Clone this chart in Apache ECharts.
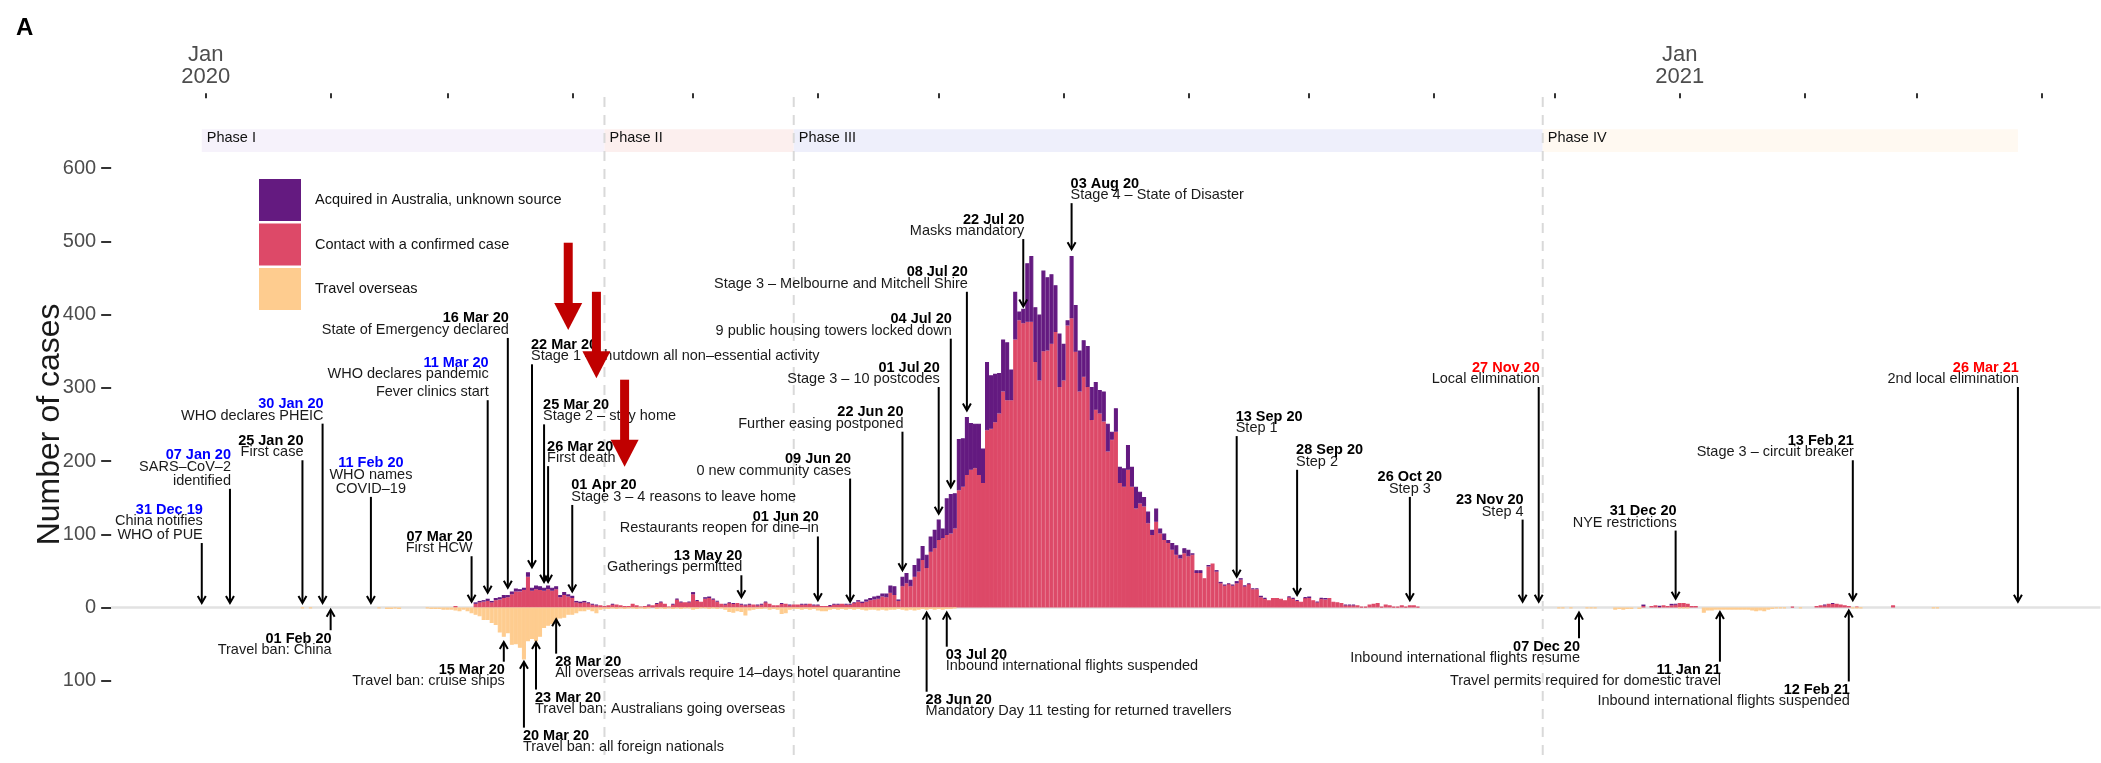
<!DOCTYPE html>
<html>
<head>
<meta charset="utf-8">
<script src="https://cdn.jsdelivr.net/npm/echarts@6/dist/echarts.min.js"></script>
<style>html,body{margin:0;padding:0;background:#fff}#chart{width:2101px;height:763px}</style>
</head>
<body>
<div id="chart"></div>
<script>
// ---------------- DATA (daily cases, starting 2020-01-21) ----------------
const dataStart = '2020-01-21';

const unknownSource = [
  0,0,0,0,0,0,0,0,0,0,
  0,0,0,0,0,0,0,0,0,0,
  0,0,0,0,0,0,0,0,0,0,
  0,0,0,0,0,0,0,0,0,0,
  0,0,0,0,0,0,0,2,2,2,
  3,2,3,3,4,3,4,4,3,3,
  6,4,5,5,4,5,4,4,3,4,
  3,3,2,2,2,1,1,1,0,0,
  0,1,0,0,0,0,0,0,0,0,
  1,0,1,1,0,0,1,1,1,0,
  1,3,1,0,2,2,1,1,0,1,
  1,1,0,1,1,1,0,1,1,1,
  0,0,0,1,0,1,0,0,1,1,
  0,1,1,0,0,1,1,1,0,1,
  1,1,2,2,3,3,4,4,4,5,
  10,12,2,13,14,9,16,18,19,18,
  21,25,28,13,50,54,48,70,66,79,
  64,61,70,47,93,73,66,55,71,79,
  42,65,12,20,80,90,75,90,110,100,
  95,64,73,50,7,85,64,56,50,56,
  45,38,32,41,38,11,32,22,25,34,
  27,30,16,13,16,7,18,7,9,4,
  9,13,5,7,9,2,4,4,0,2,
  0,2,2,1,1,1,3,2,1,1,
  1,1,2,1,0,0,0,0,0,1,
  1,1,0,1,2,0,1,1,2,0,
  0,0,0,1,1,1,0,0,0,0,
  0,0,0,0,0,0,0,0,0,0,
  0,0,0,0,0,0,0,0,0,0,
  0,0,0,0,0,0,0,0,0,0,
  0,0,0,0,0,0,0,0,0,0,
  0,0,0,0,0,0,0,0,0,0,
  0,0,0,0,0,0,0,0,0,0,
  0,0,0,0,0,0,0,2,0,0,
  0,1,0,0,2,1,0,0,0,0,
  0,0,0,0,0,0,0,0,0,0,
  0,0,0,0,0,0,0,0,0,0,
  0,0,0,0,0,0,0,0,0,0,
  0,0,1,0,1,0,0,0,0,0
];

const contactCase = [
  0,0,0,0,0,0,0,0,0,0,
  0,0,0,0,0,0,0,0,0,0,
  0,0,0,0,0,0,0,0,0,0,
  0,0,0,0,0,0,0,0,0,0,
  0,0,2,0,0,0,0,5,7,8,
  9,7,10,11,13,14,18,22,22,24,
  42,23,25,24,23,25,23,25,14,17,
  15,13,7,6,7,6,4,3,3,2,
  3,4,4,3,2,2,5,3,1,2,
  3,3,5,7,5,1,4,11,7,7,
  7,18,9,8,12,13,11,8,5,4,
  6,5,6,4,3,4,4,3,4,7,
  5,3,3,5,5,3,4,4,4,4,
  5,3,3,2,2,2,4,4,5,4,
  4,6,8,6,8,10,11,12,15,14,
  20,17,9,29,33,29,42,49,65,54,
  76,81,92,95,99,101,108,160,165,181,
  188,190,181,170,242,244,253,265,295,283,
  283,366,392,388,390,390,335,310,350,351,
  360,376,301,310,385,395,349,295,315,301,
  256,270,265,254,213,229,240,170,165,188,
  165,135,142,138,115,99,117,101,92,88,
  79,72,67,74,70,72,47,47,40,56,
  60,49,33,30,32,30,33,38,29,32,
  25,25,14,12,10,13,13,12,10,14,
  12,9,8,13,13,10,7,12,11,13,
  8,7,6,3,3,3,3,1,1,4,
  5,6,1,4,3,1,1,3,1,3,
  3,1,0,0,0,0,0,0,0,0,
  0,0,0,0,0,0,0,0,0,0,
  0,0,0,0,0,0,0,0,0,0,
  0,0,0,0,0,0,0,0,0,0,
  0,0,0,0,0,0,0,0,0,0,
  0,0,0,0,0,0,0,2,0,2,
  3,1,3,2,3,4,6,6,5,2,
  2,0,0,0,0,0,0,0,0,0,
  0,0,0,0,0,0,0,0,0,0,
  0,0,0,0,1,0,0,0,0,0,
  2,3,3,5,5,5,4,3,2,0,
  1,0,0,0,0,0,0,0,0,3
];

const travelOverseas = [
  0,0,0,0,1,0,1,0,0,0,
  0,0,0,0,0,0,0,0,0,0,
  0,0,0,1,0,2,2,1,2,0,
  0,0,0,0,0,1,2,2,2,3,
  3,3,4,5,3,5,8,10,12,17,
  17,21,24,34,40,35,51,50,55,71,
  46,43,46,40,28,25,23,17,15,14,
  10,10,8,5,5,3,5,8,3,2,
  2,1,2,1,2,1,1,2,1,2,
  1,0,2,1,2,1,2,1,2,1,
  1,3,2,1,1,2,1,2,1,3,
  6,7,5,6,11,4,3,2,2,1,
  3,2,3,9,8,3,2,2,3,2,
  3,2,4,5,5,3,2,3,2,3,
  2,3,2,3,4,3,3,4,3,4,
  3,3,2,3,4,3,4,3,2,3,
  2,3,2,3,2,2,1,0,0,0,
  0,0,0,0,0,0,0,0,0,0,
  0,0,0,0,0,0,0,0,0,0,
  0,0,0,0,0,0,0,0,0,0,
  0,0,0,0,0,0,0,0,0,0,
  0,0,0,0,0,0,0,0,0,0,
  0,0,0,0,0,0,0,0,0,0,
  0,0,0,0,0,0,0,0,0,0,
  0,0,0,0,0,0,0,0,0,0,
  0,0,0,0,0,0,0,0,0,0,
  0,0,0,0,0,0,0,0,0,0,
  0,0,0,0,0,0,0,0,0,0,
  0,0,0,0,0,0,0,0,0,0,
  0,0,0,0,0,0,0,0,0,0,
  0,0,0,0,0,0,0,0,0,0,
  0,0,0,0,0,0,1,1,0,1,
  0,0,0,1,1,1,0,0,0,0,
  3,2,3,2,2,0,2,0,0,0,
  0,0,0,0,0,0,1,1,1,0,
  0,0,7,4,4,3,3,3,3,3,
  3,3,3,3,4,5,4,5,3,2,
  1,1,1,0,0,0,1,0,0,0,
  0,0,0,0,0,0,0,0,0,1,
  1,1,0,0,0,0,0,0,0,0,
  0,0,0,0,0,0,0,0,0,1,
  1
];

const seriesNames = ['Acquired in Australia, unknown source', 'Contact with a confirmed case', 'Travel overseas'];
const yTickValues = [-100, 0, 100, 200, 300, 400, 500, 600];

// Phases
const phaseNames = ['Phase I', 'Phase II', 'Phase III', 'Phase IV'];
const phaseStarts = ['2019-12-31', '2020-04-09', '2020-05-26', '2020-11-28'];
const phaseEnd = '2021-03-26';

// Events above the bars: date, description lines
const topEventDates = ['2019-12-31','2020-01-07','2020-01-25','2020-01-30','2020-02-11','2020-03-07','2020-03-11','2020-03-16','2020-03-22','2020-03-25','2020-03-26','2020-04-01','2020-05-13','2020-06-01','2020-06-09','2020-06-22','2020-07-01','2020-07-04','2020-07-08','2020-07-22','2020-08-03','2020-09-13','2020-09-28','2020-10-26','2020-11-23','2020-11-27','2020-12-31','2021-02-13','2021-03-26'];
const topEventText = [
  ['China notifies','WHO of PUE'],
  ['SARS\u2013CoV\u20132','identified'],
  ['First case'],
  ['WHO declares PHEIC'],
  ['WHO names','COVID\u201319'],
  ['First HCW'],
  ['WHO declares pandemic','Fever clinics start'],
  ['State of Emergency declared'],
  ['Stage 1 \u2013 shutdown all non\u2013essential activity'],
  ['Stage 2 \u2013 stay home'],
  ['First death'],
  ['Stage 3 \u2013 4 reasons to leave home'],
  ['Gatherings permitted'],
  ['Restaurants reopen for dine\u2013in'],
  ['0 new community cases'],
  ['Further easing postponed'],
  ['Stage 3 \u2013 10 postcodes'],
  ['9 public housing towers locked down'],
  ['Stage 3 \u2013 Melbourne and Mitchell Shire'],
  ['Masks mandatory'],
  ['Stage 4 \u2013 State of Disaster'],
  ['Step 1'],
  ['Step 2'],
  ['Step 3'],
  ['Step 4'],
  ['Local elimination'],
  ['NYE restrictions'],
  ['Stage 3 \u2013 circuit breaker'],
  ['2nd local elimination']
];
const topEventKind = ['who','who','plain','who','who','plain','who','plain','plain','plain','plain','plain','plain','plain','plain','plain','plain','plain','plain','plain','plain','plain','plain','plain','plain','elim','plain','plain','elim'];

// Events below the bars (travel)
const bottomEventDates = ['2020-02-01','2020-03-15','2020-03-20','2020-03-23','2020-03-28','2020-06-28','2020-07-03','2020-12-07','2021-01-11','2021-02-12'];
const bottomEventText = [
  'Travel ban: China',
  'Travel ban: cruise ships',
  'Travel ban: all foreign nationals',
  'Travel ban: Australians going overseas',
  'All overseas arrivals require 14\u2013days hotel quarantine',
  'Mandatory Day 11 testing for returned travellers',
  'Inbound international flights suspended',
  'Inbound international flights resume',
  'Travel permits required for domestic travel',
  'Inbound international flights suspended'
];

// Highlight arrows
const redArrowDates = ['2020-03-31', '2020-04-07', '2020-04-14'];

// ---------------- LAYOUT (positions / styles) ----------------
const FONT = '"Liberation Sans", Arial, Helvetica, sans-serif';
const COLORS = { unknown: '#641A80', contact: '#DD4968', travel: '#FECC8F' };
const phaseColors = ['#F6F2FB', '#FCEFEE', '#EEEFFB', '#FFF9F1'];
const phaseBand = [622, 653];
const topEventArrow = [[88,6],[162,6],[201,6],[251,6],[151,6],[70,8],[283,20],[368,27],[332,55],[250,35],[193,35],[140,22],[44,14],[97,10],[176,8],[240,51],[301,128],[367,164],[431,269],[503,411],[552,489],[234,42],[188,17],[151,10],[120,8],[301,8],[105,12],[201,10],[301,8]];
const topEventAlign = ['right','right','right','right','center','right','right','right','left','left','left','left','right','right','right','right','right','right','right','right','left','left','left','center','right','right','right','right','right'];
const bottomEventArrow = [[-3,-31],[-47,-74],[-74,-164],[-47,-112],[-16,-63],[-7,-115],[-7,-53.5],[-7,-42],[-6,-74],[-4,-101]];
const bottomEventAlign = ['right','right','left','left','left','left','left','right','right','right'];
const redArrowSpan = [[498,379],[431,313],[311,192]];
const kindColor = { who: '#0000FF', elim: '#FF0000', plain: '#000000' };

// ---------------- BUILD ----------------
const DAY = 86400000;
const axisStart = Date.UTC(2019, 11, 9);
const axisDays = 494;
const categories = [];
for (let i = 0; i < axisDays; i++) categories.push(new Date(axisStart + i * DAY).toISOString().slice(0, 10));
const idxOf = s => Math.round((Date.parse(s + 'T00:00:00Z') - axisStart) / DAY);
const startIdx = idxOf(dataStart);
const toSeries = (arr, sign) => categories.map((c, i) => {
  const v = arr[i - startIdx];
  return v ? sign * v : '-';
});
const MON = ['Jan','Feb','Mar','Apr','May','Jun','Jul','Aug','Sep','Oct','Nov','Dec'];
const fmtLabel = s => s.slice(8, 10) + ' ' + MON[+s.slice(5, 7) - 1] + ' ' + s.slice(2, 4);

const descFont = '14.5px ' + FONT;
const dateFont = 'bold 14.5px ' + FONT;

function textAt(text, x, y, align, font, fill) {
  return { type: 'text', style: { text, x, y, align, verticalAlign: 'middle', font, fill } };
}
function alignX(x, align) { return align === 'left' ? x - 1 : align === 'right' ? x + 1 : x; }

function renderTopEvent(params, api) {
  const k = api.value(3);
  const a = api.coord([api.value(0), api.value(1)]);
  const b = api.coord([api.value(0), api.value(2)]);
  const x = a[0];
  const align = topEventAlign[k];
  const tx = alignX(x, align);
  const lines = topEventText[k];
  const children = [
    { type: 'line', shape: { x1: x, y1: a[1], x2: x, y2: b[1] - 1 }, style: { stroke: '#000', lineWidth: 2 } },
    { type: 'polyline', shape: { points: [[x - 4, b[1] - 7], [x, b[1]], [x + 4, b[1] - 7]] }, style: { stroke: '#000', lineWidth: 2, fill: 'none' } }
  ];
  let y = a[1] - 8;
  for (let i = lines.length - 1; i >= 0; i--) {
    children.push(textAt(lines[i], tx, y, align, descFont, '#1a1a1a'));
    if (i > 0) y -= (k === 6 ? 18 : 14);
  }
  y -= 11.5;
  children.push(textAt(fmtLabel(topEventDates[k]), tx, y, align, dateFont, kindColor[topEventKind[k]]));
  return { type: 'group', children };
}

function renderBottomEvent(params, api) {
  const k = api.value(3);
  const a = api.coord([api.value(0), api.value(1)]);
  const b = api.coord([api.value(0), api.value(2)]);
  const x = a[0];
  const align = bottomEventAlign[k];
  const tx = alignX(x, align);
  return { type: 'group', children: [
    { type: 'line', shape: { x1: x, y1: a[1] + 1, x2: x, y2: b[1] }, style: { stroke: '#000', lineWidth: 2 } },
    { type: 'polyline', shape: { points: [[x - 4, a[1] + 7], [x, a[1]], [x + 4, a[1] + 7]] }, style: { stroke: '#000', lineWidth: 2, fill: 'none' } },
    textAt(bottomEventText[k], tx, b[1] + 19.5, align, descFont, '#1a1a1a'),
    textAt(fmtLabel(bottomEventDates[k]), tx, b[1] + 8.5, align, dateFont, '#000')
  ]};
}

function renderRedArrow(params, api) {
  const a = api.coord([api.value(0), api.value(1)]);
  const b = api.coord([api.value(0), api.value(2)]);
  const x = a[0], headH = 27, headW = 28, shaftW = 9;
  return { type: 'group', children: [
    { type: 'rect', shape: { x: x - shaftW / 2, y: a[1], width: shaftW, height: b[1] - headH - a[1] + 1 }, style: { fill: '#C00000' } },
    { type: 'polygon', shape: { points: [[x - headW / 2, b[1] - headH], [x + headW / 2, b[1] - headH], [x, b[1]]] }, style: { fill: '#C00000' } }
  ]};
}

function renderPhase(params, api) {
  const k = api.value(2);
  const p0 = api.coord([api.value(0), phaseBand[1]]);
  const p1 = api.coord([api.value(1), phaseBand[0]]);
  return { type: 'group', children: [
    { type: 'rect', shape: { x: p0[0], y: p0[1], width: p1[0] - p0[0], height: p1[1] - p0[1] }, style: { fill: phaseColors[k] } },
    textAt(phaseNames[k], p0[0] + 5, (p0[1] + p1[1]) / 2 - 3, 'left', '14.5px ' + FONT, '#111')
  ]};
}

function renderDivider(params, api) {
  const a = api.coord([api.value(0), 697]);
  const b = api.coord([api.value(0), -215]);
  return { type: 'line', shape: { x1: a[0], y1: a[1], x2: b[0], y2: b[1] }, style: { stroke: '#D9D9D9', lineWidth: 2, lineDash: [10, 8] } };
}

function renderBaseline(params, api) {
  const cs = params.coordSys;
  const y = api.coord([0, 0])[1];
  return { type: 'line', shape: { x1: cs.x, y1: y, x2: cs.x + cs.width, y2: y }, style: { stroke: '#E2E2E2', lineWidth: 2.5 } };
}

function barStyle(color) {
  return { color, borderColor: color, borderWidth: 1.1 };
}

const chart = echarts.init(document.getElementById('chart'), null, { renderer: 'canvas' });
const option = {
  animation: false,
  backgroundColor: '#ffffff',
  textStyle: { fontFamily: FONT },
  title: { text: 'A', left: 11, top: 11, textStyle: { fontSize: 24, fontWeight: 'bold', color: '#000', fontFamily: FONT } },
  legend: {
    data: seriesNames,
    orient: 'vertical', left: 259, top: 179, padding: 0,
    itemWidth: 40, itemHeight: 40, itemGap: 2.5, icon: 'rect',
    selectedMode: false,
    textStyle: { fontSize: 14.5, color: '#111', fontFamily: FONT, padding: [0, 0, 0, 10] }
  },
  grid: { left: 111.17, top: 94.75, width: 1989.3, height: 659.25, containLabel: false },
  xAxis: {
    type: 'category', position: 'top', data: categories, boundaryGap: true, offset: -3.5,
    axisLine: { show: false, onZero: false },
    axisTick: { show: true, alignWithLabel: true, interval: (i, v) => v.slice(8) === '01', length: 5, lineStyle: { color: '#333', width: 2 } },
    axisLabel: { interval: (i, v) => v.slice(5) === '01-01', formatter: v => 'Jan\n' + v.slice(0, 4), fontSize: 22, lineHeight: 22, color: '#4d4d4d', margin: 10 },
    splitLine: { show: false }
  },
  yAxis: {
    type: 'value', min: -200, max: 700, interval: 100,
    axisLine: { show: false, onZero: false }, splitLine: { show: false },
    axisTick: { show: true, length: 10, lineStyle: { color: '#333', width: 2 }, customValues: yTickValues },
    axisLabel: { fontSize: 20, color: '#4d4d4d', margin: 15, customValues: yTickValues,
      formatter: v => (v < -100 || v > 600) ? '' : String(Math.abs(v)) },
    name: 'Number of cases', nameLocation: 'middle', nameGap: 45, nameMoveOverlap: false,
    nameTextStyle: { fontSize: 32, color: '#1a1a1a', fontFamily: FONT }
  },
  series: [
    { type: 'custom', name: 'phases', z: 1, silent: true, clip: false, renderItem: renderPhase,
      data: phaseNames.map((n, k) => [idxOf(phaseStarts[k]), idxOf(k < 3 ? phaseStarts[k + 1] : phaseEnd), k]) },
    { type: 'custom', name: 'dividers', z: 1, silent: true, clip: false, renderItem: renderDivider,
      data: phaseStarts.slice(1).map(s => [idxOf(s), 0]) },
    { type: 'custom', name: 'baseline', z: 1, silent: true, clip: false, renderItem: renderBaseline, data: [[0, 0]] },
    { name: seriesNames[1], type: 'bar', stack: 'cases', data: toSeries(contactCase, 1), barCategoryGap: '0%', barGap: '0%',
      itemStyle: barStyle(COLORS.contact), z: 2, silent: true },
    { name: seriesNames[0], type: 'bar', stack: 'cases', data: toSeries(unknownSource, 1), barCategoryGap: '0%', barGap: '0%',
      itemStyle: barStyle(COLORS.unknown), z: 2, silent: true },
    { name: seriesNames[2], type: 'bar', stack: 'cases', data: toSeries(travelOverseas, -1), barCategoryGap: '0%', barGap: '0%',
      itemStyle: barStyle(COLORS.travel), z: 2, silent: true },
    { type: 'custom', name: 'topEvents', z: 5, silent: true, clip: false, renderItem: renderTopEvent,
      data: topEventDates.map((d, k) => [idxOf(d), topEventArrow[k][0], topEventArrow[k][1], k]) },
    { type: 'custom', name: 'bottomEvents', z: 5, silent: true, clip: false, renderItem: renderBottomEvent,
      data: bottomEventDates.map((d, k) => [idxOf(d), bottomEventArrow[k][0], bottomEventArrow[k][1], k]) },
    { type: 'custom', name: 'redArrows', z: 6, silent: true, clip: false, renderItem: renderRedArrow,
      data: redArrowDates.map((d, k) => [idxOf(d), redArrowSpan[k][0], redArrowSpan[k][1]]) }
  ]
};
chart.setOption(option);
</script>
</body>
</html>
